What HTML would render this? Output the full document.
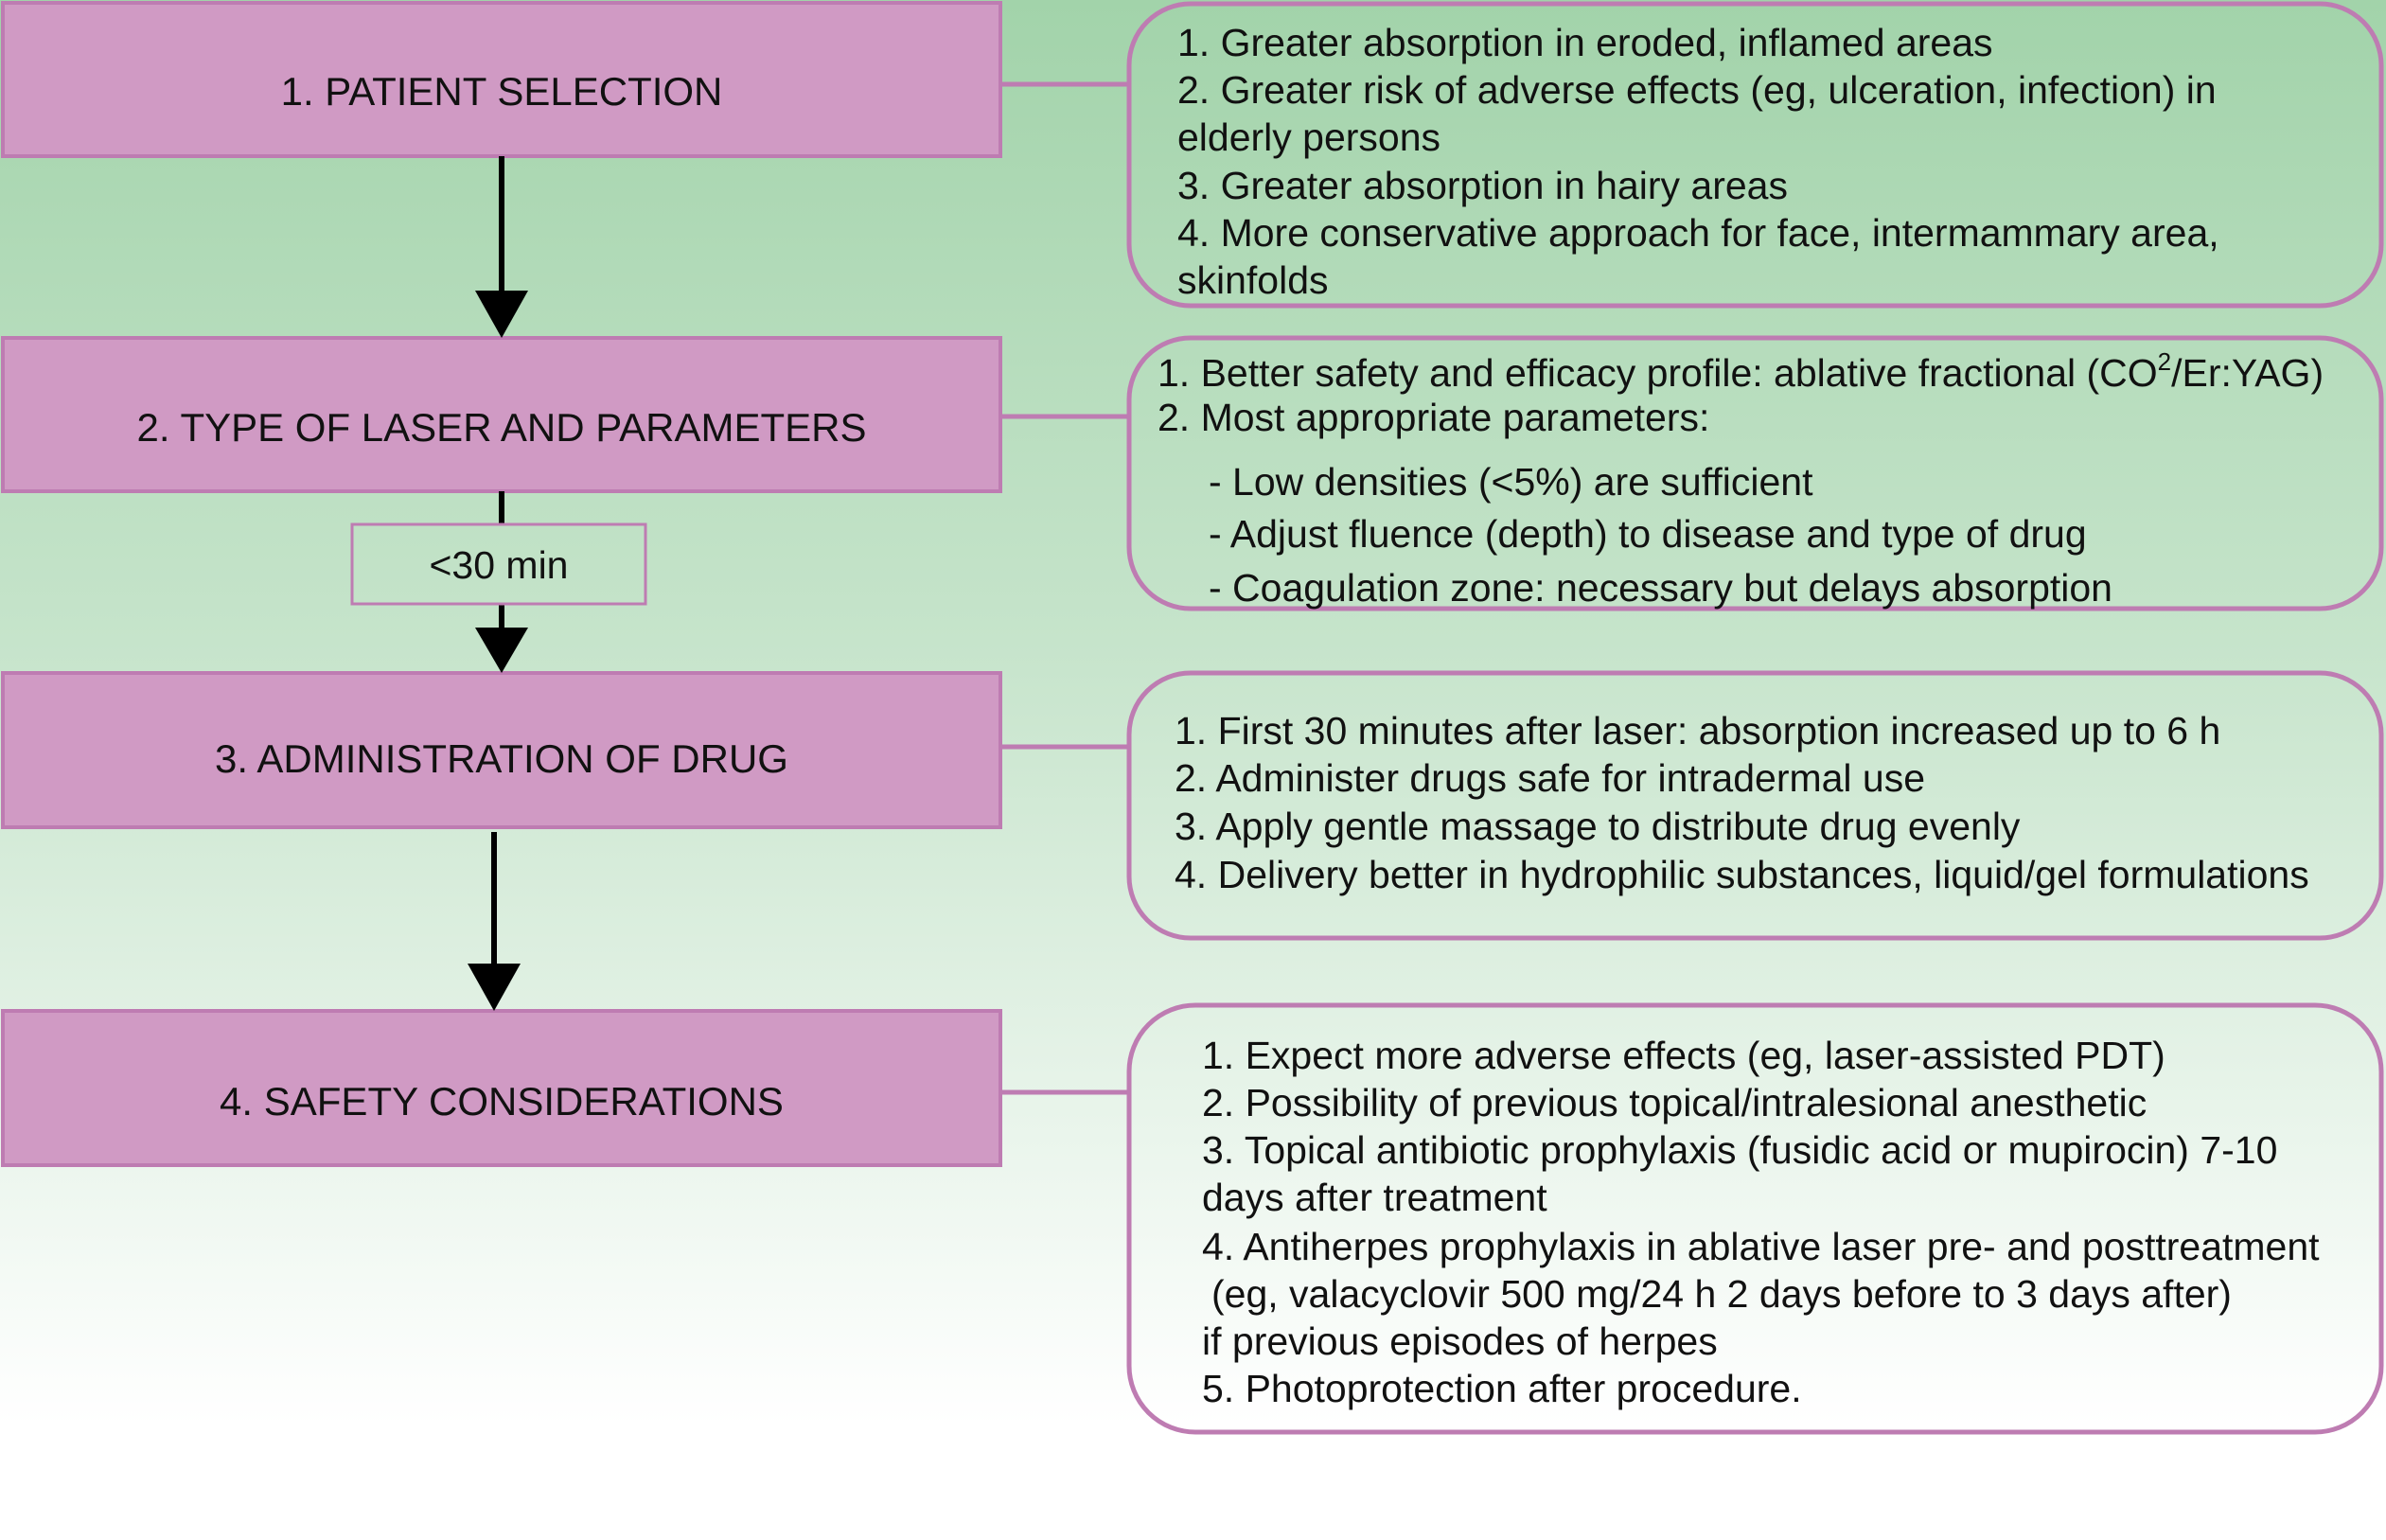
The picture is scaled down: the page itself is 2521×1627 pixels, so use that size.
<!DOCTYPE html>
<html><head><meta charset="utf-8"><style>html,body{margin:0;padding:0;background:#fff}svg{display:block}</style></head><body>
<svg width="2521" height="1627" viewBox="0 0 2521 1627" xmlns="http://www.w3.org/2000/svg" font-family="Liberation Sans, Arial, sans-serif" font-size="41" fill="#111">
<defs>
<linearGradient id="bg" x1="0" y1="0" x2="0" y2="1">
<stop offset="0" stop-color="#a2d3aa"/>
<stop offset="0.45" stop-color="#c6e4cb"/>
<stop offset="1" stop-color="#ffffff"/>
</linearGradient>
</defs>
<rect x="0" y="0" width="2521" height="1505" fill="url(#bg)"/>
<g fill="#d09ac4" stroke="#be7cb2" stroke-width="4">
<rect x="3" y="3" width="1054" height="162"/>
<rect x="3" y="357" width="1054" height="162"/>
<rect x="3" y="711" width="1054" height="163"/>
<rect x="3" y="1068" width="1054" height="163"/>
</g>
<g text-anchor="middle" font-size="42">
<text x="530" y="111">1. PATIENT SELECTION</text>
<text x="530" y="466">2. TYPE OF LASER AND PARAMETERS</text>
<text x="530" y="816">3. ADMINISTRATION OF DRUG</text>
<text x="530" y="1178">4. SAFETY CONSIDERATIONS</text>
</g>
<g stroke="#000" stroke-width="6">
<line x1="530" y1="165" x2="530" y2="310"/>
<line x1="530" y1="519" x2="530" y2="554"/>
<line x1="530" y1="638" x2="530" y2="665"/>
<line x1="522" y1="879" x2="522" y2="1020"/>
</g>
<g fill="#000">
<polygon points="502,307 558,307 530,357"/>
<polygon points="502,663 558,663 530,711"/>
<polygon points="494,1018 550,1018 522,1068"/>
</g>
<rect x="372" y="554" width="310" height="84" fill="none" stroke="#be7cb2" stroke-width="3"/>
<text x="527" y="611" text-anchor="middle">&lt;30 min</text>
<g stroke="#be7cb2" stroke-width="5">
<line x1="1057" y1="89" x2="1193" y2="89"/>
<line x1="1057" y1="440" x2="1193" y2="440"/>
<line x1="1057" y1="789" x2="1193" y2="789"/>
<line x1="1057" y1="1154" x2="1193" y2="1154"/>
</g>
<g fill="none" stroke="#be7cb2" stroke-width="5">
<rect x="1193" y="4" width="1323" height="319" rx="65"/>
<rect x="1193" y="357" width="1323" height="286" rx="65"/>
<rect x="1193" y="711" width="1323" height="280" rx="65"/>
<rect x="1193" y="1062" width="1323" height="451" rx="70"/>
</g>
<g>
<text x="1244" y="59">1. Greater absorption in eroded, inflamed areas</text>
<text x="1244" y="109">2. Greater risk of adverse effects (eg, ulceration, infection) in</text>
<text x="1244" y="159">elderly persons</text>
<text x="1244" y="210">3. Greater absorption in hairy areas</text>
<text x="1244" y="260">4. More conservative approach for face, intermammary area,</text>
<text x="1244" y="310">skinfolds</text>

<text x="1223" y="408">1. Better safety and efficacy profile: ablative fractional (CO<tspan font-size="26" dy="-17">2</tspan><tspan dy="17">/Er:YAG)</tspan></text>
<text x="1223" y="455">2. Most appropriate parameters:</text>
<text x="1277" y="523">- Low densities (&lt;5%) are sufficient</text>
<text x="1277" y="578">- Adjust fluence (depth) to disease and type of drug</text>
<text x="1277" y="635">- Coagulation zone: necessary but delays absorption</text>

<text x="1241" y="786">1. First 30 minutes after laser: absorption increased up to 6 h</text>
<text x="1241" y="836">2. Administer drugs safe for intradermal use</text>
<text x="1241" y="887">3. Apply gentle massage to distribute drug evenly</text>
<text x="1241" y="938">4. Delivery better in hydrophilic substances, liquid/gel formulations</text>

<text x="1270" y="1129">1. Expect more adverse effects (eg, laser-assisted PDT)</text>
<text x="1270" y="1179">2. Possibility of previous topical/intralesional anesthetic</text>
<text x="1270" y="1229">3. Topical antibiotic prophylaxis (fusidic acid or mupirocin) 7-10</text>
<text x="1270" y="1279">days after treatment</text>
<text x="1270" y="1331">4. Antiherpes prophylaxis in ablative laser pre- and posttreatment</text>
<text x="1280" y="1381">(eg, valacyclovir 500 mg/24 h 2 days before to 3 days after)</text>
<text x="1270" y="1431">if previous episodes of herpes</text>
<text x="1270" y="1481">5. Photoprotection after procedure.</text>
</g>
</svg>
</body></html>
